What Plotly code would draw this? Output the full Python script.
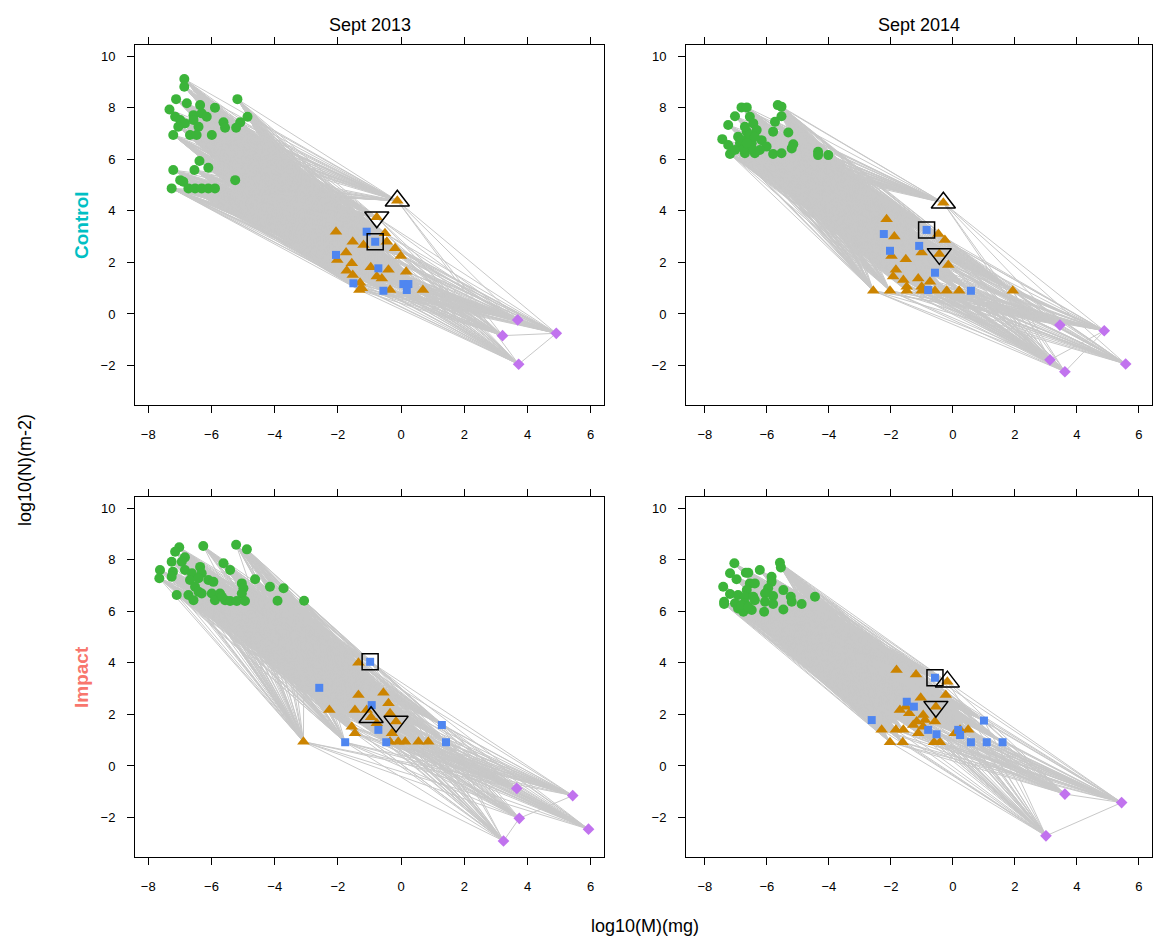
import plotly.graph_objects as go

# ---------------- data: (log10 M, log10 N) per node group ----------------
C13_GREEN = [(-6.86, 9.11), (-6.86, 8.81), (-7.12, 8.33), (-6.78, 8.17), (-5.18, 8.33), (-7.33, 7.93),
             (-6.36, 8.10), (-5.89, 8.00), (-7.15, 7.65), (-6.99, 7.52), (-6.57, 7.71), (-6.31, 7.78),
             (-6.15, 7.65), (-4.86, 7.65), (-6.84, 7.39), (-7.05, 7.26), (-6.57, 7.52), (-5.62, 7.43),
             (-5.09, 7.43), (-6.41, 7.26), (-5.57, 7.22), (-5.22, 7.22), (-7.21, 6.94), (-6.68, 6.94),
             (-6.47, 6.94), (-5.99, 6.94), (-6.38, 5.93), (-7.21, 5.58), (-6.54, 5.58), (-6.10, 5.67),
             (-6.99, 5.19), (-6.89, 5.13), (-5.25, 5.19), (-7.26, 4.87), (-6.73, 4.87), (-6.52, 4.87),
             (-6.31, 4.87), (-6.10, 4.87), (-5.89, 4.87)]
C13_ORANGE = [(-0.12, 4.39), (-0.77, 3.75), (-2.06, 3.19), (-1.53, 2.80), (-1.19, 2.67), (-0.51, 3.13),
              (-0.45, 2.80), (-0.19, 2.55), (-0.01, 2.25), (-1.74, 2.38), (-2.02, 2.09), (-1.56, 1.97),
              (-1.72, 1.68), (-0.96, 1.81), (-0.40, 1.71), (0.16, 1.64), (-0.77, 1.45), (-0.61, 1.38),
              (-1.53, 1.51), (-1.30, 1.21), (-1.32, 0.93), (-0.35, 0.93), (0.69, 0.93), (-1.24, 1.00)]
C13_BLUE = [(-0.82, 2.80), (-1.09, 3.19), (-2.06, 2.29), (-0.72, 1.77), (-1.51, 1.19), (-0.56, 0.90),
            (0.07, 1.16), (0.23, 1.16), (0.18, 0.93)]
C13_PURPLE = [(3.69, -0.23), (3.21, -0.84), (4.91, -0.75), (3.72, -1.95)]
C13_PURPLE_LINKS = [(1, 2), (2, 3)]
C13_OPEN = {"up": (-0.12, 4.39), "down": (-0.77, 3.75), "square": (-0.82, 2.80)}

C14_GREEN = [(-6.82, 8.01), (-6.65, 8.01), (-5.65, 8.10), (-5.53, 8.04), (-7.03, 7.67), (-6.55, 7.65),
             (-5.53, 7.67), (-7.25, 7.33), (-6.44, 7.39), (-5.74, 7.45), (-6.33, 7.13), (-5.80, 7.07),
             (-6.65, 7.07), (-5.31, 7.04), (-6.93, 6.87), (-6.60, 6.81), (-7.44, 6.78), (-6.17, 6.74),
             (-7.25, 6.55), (-6.87, 6.62), (-6.49, 6.62), (-6.01, 6.49), (-5.15, 6.58), (-7.19, 6.20),
             (-6.71, 6.23), (-6.39, 6.23), (-5.80, 6.20), (-5.53, 6.23), (-5.20, 6.42), (-4.35, 6.29),
             (-4.35, 6.16), (-4.02, 6.16), (-6.49, 6.42), (-6.76, 6.42), (-6.23, 6.36), (-7.03, 6.36),
             (-6.71, 7.26), (-6.55, 6.94), (-6.82, 6.74), (-6.65, 6.62), (-6.39, 6.87)]
C14_ORANGE = [(-0.31, 4.31), (-0.44, 2.33), (-2.14, 3.67), (-1.89, 3.00), (-0.47, 3.10), (-0.26, 2.87),
              (-1.01, 2.38), (-1.98, 2.25), (-1.52, 2.12), (-0.15, 1.90), (-1.84, 1.71), (-1.93, 1.45),
              (-1.60, 1.32), (-1.12, 1.38), (-0.74, 1.25), (-1.49, 1.06), (-1.01, 1.06), (-2.57, 0.90),
              (-2.03, 0.90), (-1.49, 0.90), (-1.01, 0.90), (-0.58, 0.90), (-0.20, 0.90), (0.20, 0.90),
              (1.93, 0.90)]
C14_BLUE = [(-0.85, 3.26), (-2.23, 3.10), (-1.09, 2.64), (-2.03, 2.45), (-0.58, 1.60), (-0.80, 0.93),
            (0.58, 0.90)]
C14_PURPLE = [(3.45, -0.43), (4.88, -0.65), (3.13, -1.78), (3.61, -2.24), (5.57, -1.94)]
C14_PURPLE_LINKS = [(2, 3), (2, 1), (3, 1)]
C14_OPEN = {"up": (-0.31, 4.31), "down": (-0.44, 2.33), "square": (-0.85, 3.26)}

I13_GREEN = [(-6.26, 8.53), (-5.22, 8.58), (-4.88, 8.40), (-7.02, 8.48), (-7.15, 8.31), (-6.84, 8.09),
             (-7.26, 7.92), (-6.94, 7.92), (-5.62, 7.86), (-5.41, 7.60), (-7.63, 7.60), (-7.22, 7.53),
             (-6.84, 7.60), (-6.36, 7.72), (-6.62, 7.47), (-6.31, 7.47), (-7.65, 7.28), (-7.26, 7.34),
             (-6.68, 7.21), (-6.41, 7.28), (-6.10, 7.21), (-5.94, 7.14), (-4.62, 7.24), (-6.52, 6.95),
             (-5.04, 7.08), (-4.99, 6.89), (-4.15, 6.95), (-3.72, 6.89), (-6.41, 6.76), (-7.10, 6.63),
             (-6.73, 6.63), (-6.31, 6.69), (-5.99, 6.69), (-5.73, 6.69), (-5.04, 6.69), (-6.57, 6.43),
             (-5.89, 6.43), (-5.57, 6.43), (-5.41, 6.40), (-5.20, 6.40), (-4.94, 6.40), (-5.67, 6.56),
             (-3.91, 6.41), (-3.07, 6.41)]
I13_ORANGE = [(-1.35, 4.00), (-0.95, 1.89), (-0.16, 1.72), (-1.35, 2.75), (-0.56, 2.84), (-0.40, 2.43),
              (-2.27, 2.17), (-1.46, 2.17), (-1.09, 2.17), (-0.35, 2.04), (-1.56, 1.52), (-1.46, 1.27),
              (-0.77, 1.66), (-3.09, 0.94), (-0.29, 1.27), (-0.35, 0.94), (0.13, 0.94), (0.55, 0.94),
              (0.86, 0.94), (-0.09, 0.94)]
I13_BLUE = [(-0.98, 4.04), (-2.59, 3.03), (-0.93, 2.36), (-0.72, 1.40), (-1.77, 0.92), (1.29, 1.59),
            (1.42, 0.92), (-0.47, 0.92)]
I13_PURPLE = [(3.66, -0.87), (5.43, -1.15), (3.74, -2.03), (5.93, -2.45), (3.24, -2.91)]
I13_PURPLE_LINKS = [(2, 1), (4, 2)]
I13_OPEN = {"up": (-0.95, 1.89), "down": (-0.16, 1.72), "square": (-0.98, 4.04)}

I14_GREEN = [(-7.05, 7.86), (-5.58, 7.88), (-5.55, 7.70), (-6.68, 7.49), (-6.60, 7.49), (-6.23, 7.60),
             (-7.19, 7.47), (-6.98, 7.24), (-5.85, 7.34), (-6.55, 7.08), (-6.39, 7.08), (-5.85, 7.14),
             (-7.41, 6.95), (-5.96, 6.89), (-6.65, 6.82), (-5.47, 6.82), (-7.19, 6.67), (-6.93, 6.63),
             (-6.71, 6.56), (-6.44, 6.56), (-6.06, 6.69), (-5.80, 6.59), (-5.23, 6.56), (-4.45, 6.56),
             (-7.38, 6.37), (-7.03, 6.31), (-6.71, 6.31), (-6.39, 6.43), (-6.06, 6.37), (-5.20, 6.37),
             (-5.80, 6.28), (-4.88, 6.28), (-6.93, 6.11), (-6.76, 5.98), (-6.49, 6.05), (-6.09, 5.98),
             (-5.47, 6.07), (-7.38, 6.28), (-6.82, 6.24), (-6.60, 6.17)]
I14_ORANGE = [(-0.18, 3.27), (-0.55, 2.30), (-1.82, 3.72), (-1.19, 3.55), (-0.23, 2.75), (-1.04, 2.65),
              (-1.52, 2.30), (-1.71, 2.17), (-1.41, 2.04), (-0.96, 1.98), (-1.17, 1.72), (-0.90, 1.78),
              (-0.58, 1.72), (-1.28, 1.59), (-0.96, 1.52), (-2.30, 1.40), (-1.84, 1.40), (-1.60, 1.40),
              (-1.12, 1.27), (0.06, 1.27), (0.23, 1.40), (0.49, 1.40), (-2.03, 0.92), (-1.62, 0.92),
              (-0.61, 0.92), (-0.42, 0.92)]
I14_BLUE = [(-0.58, 3.42), (-1.49, 2.49), (-1.26, 2.30), (-2.62, 1.78), (-0.80, 1.40), (-0.53, 1.23),
            (0.17, 1.40), (0.23, 1.20), (1.00, 1.76), (0.58, 0.92), (1.09, 0.92), (1.60, 0.92)]
I14_PURPLE = [(3.61, -1.09), (5.44, -1.42), (3.00, -2.71)]
I14_PURPLE_LINKS = [(2, 1), (0, 1)]
I14_OPEN = {"up": (-0.18, 3.27), "down": (-0.55, 2.30), "square": (-0.58, 3.42)}

COL_TITLES = ["Sept 2013", "Sept 2014"]
ROW_TITLES = ["Control", "Impact"]
X_TICKS = [-8, -6, -4, -2, 0, 2, 4, 6]
Y_TICKS = [-2, 0, 2, 4, 6, 8, 10]

PANELS = [
    (C13_GREEN, C13_ORANGE, C13_BLUE, C13_PURPLE, C13_PURPLE_LINKS, C13_OPEN),
    (C14_GREEN, C14_ORANGE, C14_BLUE, C14_PURPLE, C14_PURPLE_LINKS, C14_OPEN),
    (I13_GREEN, I13_ORANGE, I13_BLUE, I13_PURPLE, I13_PURPLE_LINKS, I13_OPEN),
    (I14_GREEN, I14_ORANGE, I14_BLUE, I14_PURPLE, I14_PURPLE_LINKS, I14_OPEN),
]

# ---------------- layout geometry (pixels of a 1158x940 page) ----------------
W, H = 1158, 940
PX_COLS = [(135, 604), (686, 1152)]
PX_ROWS = [(45, 405), (497, 857)]
X_RANGES = [(-8.42, 6.42), (-8.61, 6.42)]
Y_RANGE = (-3.53, 10.43)

GREEN_C = "#3cb43a"
ORANGE_C = "#cc8400"
BLUE_C = "#4f86f0"
PURPLE_C = "#c173ee"
LINK_C = "#c8c8c8"
FONT = "Liberation Sans, Arial, sans-serif"

fig = go.Figure()


def link_xy(green, mid, purple, plinks):
    xs, ys = [], []
    for (gx, gy) in green:
        for (mx, my) in mid:
            xs += [gx, mx, None]
            ys += [gy, my, None]
    for (mx, my) in mid:
        for (px, py) in purple:
            xs += [mx, px, None]
            ys += [my, py, None]
    for (a, b) in plinks:
        xs += [purple[a][0], purple[b][0], None]
        ys += [purple[a][1], purple[b][1], None]
    return xs, ys


for i, (green, orange, blue, purple, plinks, opn) in enumerate(PANELS):
    n = i + 1
    xa = "x" if n == 1 else f"x{n}"
    ya = "y" if n == 1 else f"y{n}"
    lx, ly = link_xy(green, orange + blue, purple, plinks)
    fig.add_trace(go.Scatter(x=lx, y=ly, mode="lines", xaxis=xa, yaxis=ya,
                             line=dict(color=LINK_C, width=1), hoverinfo="skip", showlegend=False))
    groups = [
        (green, "circle", GREEN_C, 10),
        (orange, "triangle-up", ORANGE_C, 11),
        (blue, "square", BLUE_C, 8),
        (purple, "diamond", PURPLE_C, 9),
    ]
    for pts, sym, col, sz in groups:
        fig.add_trace(go.Scatter(x=[p[0] for p in pts], y=[p[1] for p in pts], mode="markers",
                                 xaxis=xa, yaxis=ya, showlegend=False,
                                 marker=dict(symbol=sym, color=col, size=sz, line=dict(width=0))))
    for key, sym, sz in [("up", "triangle-up-open", 21), ("down", "triangle-down-open", 21),
                         ("square", "square-open", 16)]:
        fig.add_trace(go.Scatter(x=[opn[key][0]], y=[opn[key][1]], mode="markers",
                                 xaxis=xa, yaxis=ya, showlegend=False,
                                 marker=dict(symbol=sym, color="black", size=sz,
                                             line=dict(color="black", width=1.5))))

layout = dict(
    width=W, height=H, margin=dict(l=0, r=0, t=0, b=0),
    paper_bgcolor="white", plot_bgcolor="white",
    font=dict(family=FONT, size=13, color="black"),
    showlegend=False,
)
for i in range(4):
    n = i + 1
    r, c = divmod(i, 2)
    x0, x1 = PX_COLS[c]
    y0, y1 = PX_ROWS[r]
    suffix = "" if n == 1 else str(n)
    axis_common = dict(showgrid=False, zeroline=False, showline=True, linecolor="black",
                       linewidth=1, ticks="outside", ticklen=7, tickcolor="black",
                       tickfont=dict(family=FONT, size=13, color="black"))
    layout[f"xaxis{suffix}"] = dict(domain=[x0 / W, x1 / W], range=list(X_RANGES[c]),
                                    tickvals=X_TICKS, mirror="ticks", ticklabelstandoff=10,
                                    anchor=f"y{suffix}", **axis_common)
    layout[f"yaxis{suffix}"] = dict(domain=[1 - y1 / H, 1 - y0 / H], range=list(Y_RANGE),
                                    tickvals=Y_TICKS, mirror=True, ticklabelstandoff=9,
                                    anchor=f"x{suffix}", **axis_common)

annotations = []
for c, t in enumerate(COL_TITLES):
    x0, x1 = PX_COLS[c]
    annotations.append(dict(text=t, x=(x0 + x1) / 2 / W, y=1 - 25 / H, xref="paper", yref="paper",
                            showarrow=False, font=dict(family=FONT, size=18, color="black"),
                            xanchor="center", yanchor="middle"))
for r, (t, col) in enumerate(zip(ROW_TITLES, ["#00BFC4", "#F8766D"])):
    y0, y1 = PX_ROWS[r]
    annotations.append(dict(text=f"<b>{t}</b>", x=81 / W, y=1 - (y0 + y1) / 2 / H, xref="paper",
                            yref="paper", showarrow=False, textangle=-90,
                            font=dict(family=FONT, size=19, color=col),
                            xanchor="center", yanchor="middle"))
annotations.append(dict(text="log10(N)(m-2)", x=25 / W, y=1 - 470 / H, xref="paper", yref="paper",
                        showarrow=False, textangle=-90, font=dict(family=FONT, size=18, color="black"),
                        xanchor="center", yanchor="middle"))
annotations.append(dict(text="log10(M)(mg)", x=645 / W, y=1 - 926 / H, xref="paper", yref="paper",
                        showarrow=False, font=dict(family=FONT, size=18, color="black"),
                        xanchor="center", yanchor="middle"))
layout["annotations"] = annotations

fig.update_layout(**layout)
fig.write_html("out.html")
